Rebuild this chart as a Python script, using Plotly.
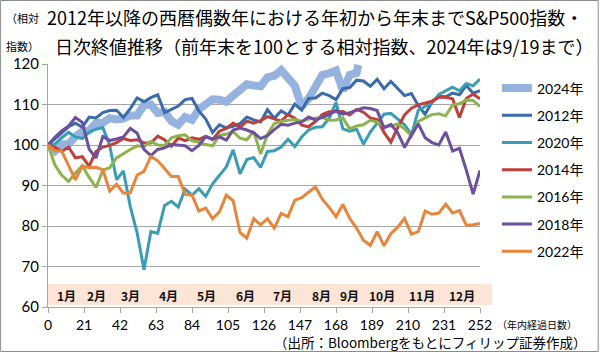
import plotly.graph_objects as go

# ---------------- data ----------------
days = list(range(0, 253, 4))
days_2024 = list(range(0, 181, 4)) + [181]

y2024 = [100, 98.5, 100.2, 100.2, 102.1, 103.3, 103.6, 105.4, 105.5, 106.6,
         106.3, 106.5, 107.3, 107.3, 109.9, 110.0, 107.9, 108.2, 105.9, 105.0,
         106.9, 106.2, 108.8, 110.0, 111.3, 111.2, 110.7, 112.2, 113.7, 115.0,
         114.7, 114.5, 116.7, 117.1, 118.5, 116.5, 114.6, 109.5, 111.5, 114.4,
         117.3, 117.7, 118.4, 113.4, 117.3, 117.8, 119.8]
y2012 = [100, 101.6, 103.0, 104.5, 105.4, 104.4, 106.9, 106.7, 108.0, 108.5,
         108.6, 106.8, 109.0, 111.6, 110.7, 111.7, 112.4, 108.0, 108.9, 109.6,
         111.2, 111.5, 108.4, 106.4, 103.1, 105.0, 104.2, 104.6, 105.3, 106.9,
         106.2, 105.7, 108.7, 106.6, 108.4, 107.4, 110.1, 108.6, 111.5, 111.6,
         112.8, 112.2, 111.2, 113.9, 114.2, 116.0, 115.8, 114.5, 116.2, 113.9,
         115.7, 114.0, 112.2, 112.7, 109.7, 107.6, 110.6, 112.0, 111.9, 112.8,
         112.4, 114.7, 112.8, 113.4]
y2020 = [100, 100.2, 101.8, 103.1, 102.0, 101.6, 103.2, 103.9, 104.3, 99.9,
         91.4, 93.6, 84.8, 78.3, 69.2, 78.6, 78.2, 85.1, 86.1, 84.7,
         89.1, 87.6, 89.2, 87.3, 90.4, 92.6, 94.6, 98.8, 92.9, 96.4,
         96.9, 94.5, 98.4, 98.6, 99.5, 101.4, 99.6, 102.0, 103.7, 104.4,
         104.5, 106.6, 110.5, 104.0, 103.4, 103.9, 100.2, 103.2, 105.5, 107.6,
         107.8, 106.3, 105.0, 102.5, 108.6, 109.5, 110.4, 112.5, 113.3, 114.3,
         113.4, 115.2, 114.6, 116.3]
y2014 = [100, 99.4, 98.4, 99.5, 96.8, 97.1, 94.8, 98.4, 99.5, 99.9,
         100.6, 101.6, 101.1, 101.3, 100.5, 100.5, 102.2, 101.3, 99.7, 101.7,
         101.1, 101.8, 101.4, 102.1, 101.3, 103.4, 104.1, 105.4, 104.4, 105.9,
         105.4, 106.0, 107.0, 106.4, 105.9, 107.5, 106.6, 104.9, 104.5, 105.8,
         107.5, 108.2, 108.3, 108.3, 107.4, 108.8, 108.1, 106.7, 106.3, 103.1,
         100.7, 104.3, 107.4, 109.1, 109.9, 110.3, 110.8, 111.8, 111.8, 111.4,
         106.8, 111.5, 112.6, 111.4]
y2016 = [100, 95.1, 92.5, 91.0, 93.1, 94.9, 92.0, 89.5, 93.8, 94.4,
         96.8, 97.9, 98.9, 99.8, 99.6, 100.9, 100.0, 99.9, 101.8, 102.3,
         102.5, 101.0, 100.7, 100.1, 99.8, 102.3, 102.7, 103.3, 101.7, 101.3,
         103.4, 97.8, 102.6, 105.3, 105.8, 106.1, 106.3, 105.9, 106.4, 106.6,
         106.8, 106.1, 106.2, 106.7, 104.0, 104.7, 105.0, 106.1, 105.7, 104.6,
         104.7, 105.2, 104.0, 102.2, 105.8, 106.7, 107.5, 107.7, 107.2, 109.9,
         110.2, 111.1, 111.0, 109.5]
y2018 = [100, 101.9, 103.5, 104.7, 106.8, 105.6, 99.0, 96.8, 102.1, 101.1,
         101.5, 102.0, 104.1, 102.9, 98.9, 97.4, 98.9, 99.3, 100.1, 99.9,
         99.8, 98.6, 99.9, 102.1, 101.5, 102.0, 101.2, 103.7, 104.2, 103.7,
         103.0, 101.6, 102.3, 103.8, 105.1, 104.9, 105.4, 105.7, 106.9, 106.2,
         106.9, 107.5, 108.5, 107.6, 108.0, 108.6, 109.2, 109.0, 108.5, 104.2,
         105.1, 103.0, 99.4, 102.5, 105.2, 101.8, 100.6, 100.0, 103.2, 98.5,
         99.2, 93.8, 87.9, 93.7]
y2022 = [100, 98.6, 98.5, 95.1, 91.4, 94.8, 94.4, 94.5, 93.9, 88.6,
         90.3, 88.1, 88.2, 92.6, 93.5, 97.2, 96.1, 94.2, 92.2, 92.2,
         87.8, 87.6, 83.7, 84.4, 81.8, 83.5, 87.6, 86.3, 78.4, 77.0,
         81.8, 80.3, 81.8, 79.5, 83.1, 82.3, 86.4, 87.0, 88.3, 89.7,
         86.6, 84.6, 82.3, 85.3, 81.9, 79.5, 76.5, 75.2, 78.6, 75.1,
         78.1, 79.7, 81.9, 78.0, 78.6, 83.7, 82.9, 83.2, 85.4, 83.2,
         83.8, 80.2, 80.3, 80.6]

series_names = ["2024年", "2012年", "2020年", "2014年", "2016年", "2018年", "2022年"]
series_x = [days_2024, days, days, days, days, days, days]
series_y = [y2024, y2012, y2020, y2014, y2016, y2018, y2022]
series_colors = ["#95B3DE", "#3A6BAD", "#3A9DB6", "#BD403B", "#8FB34C", "#6C4F9E", "#E8853A"]
series_widths = [8, 3, 3, 3, 3, 3, 3]

x_ticks = list(range(0, 253, 21))
y_ticks = list(range(60, 121, 10))
month_labels = ["1月", "2月", "3月", "4月", "5月", "6月", "7月", "8月", "9月", "10月", "11月", "12月"]
month_pos = [11, 28, 48.3, 70.5, 92.6, 115.3, 136.8, 159.5, 175.8, 195, 218.3, 241.5]

# ---------------- figure ----------------
W, H = 600, 352
ML, MR, MT, MB = 48, 119, 64, 45
PW, PH = W - ML - MR, H - MT - MB

def px_x(p):
    return (p - ML) / PW

def px_y(p):
    return (H - MB - p) / PH

JP = "Noto Sans CJK JP"
NUM = "Lato, Noto Sans CJK JP"

fig = go.Figure()
for i, (n, xs, ys, c, w) in enumerate(zip(series_names, series_x, series_y, series_colors, series_widths)):
    fig.add_trace(go.Scatter(x=xs, y=ys, mode="lines", name=n,
                             line=dict(color=c, width=w),
                             legendgroup=n, legendrank=i + 1))

for lab, p in zip(month_labels, month_pos):
    fig.add_annotation(x=p, y=62.9, xref="x", yref="y", text="<b>" + lab + "</b>",
                       showarrow=False, font=dict(family=JP, size=12, color="#111"))

shapes = [
    dict(type="rect", xref="paper", yref="paper", x0=0, x1=px_x(493),
         y0=px_y(305), y1=px_y(284), fillcolor="#FCE4D6", line=dict(width=0), layer="below"),
    dict(type="rect", xref="paper", yref="paper", x0=px_x(0.5), x1=px_x(599.5),
         y0=px_y(351.5), y1=px_y(0.5), line=dict(color="#8C8C8C", width=1), fillcolor="rgba(0,0,0,0)"),
]

ann = [
    dict(text="2012年以降の西暦偶数年における年初から年末までS&P500指数・", x=px_x(45), y=px_y(17)),
    dict(text="日次終値推移（前年末を100とする相対指数、2024年は9/19まで）", x=px_x(53), y=px_y(46)),
]
for a in ann:
    fig.add_annotation(text=a["text"], x=a["x"], y=a["y"], xref="paper", yref="paper",
                       xanchor="left", yanchor="middle", showarrow=False,
                       font=dict(family=JP, size=18, color="#000"))
for t, yy in [("（相対", 18), ("指数）", 46)]:
    fig.add_annotation(text=t, x=px_x(4), y=px_y(yy), xref="paper", yref="paper",
                       xanchor="left", yanchor="middle", showarrow=False,
                       font=dict(family=JP, size=11, color="#000"))
fig.add_annotation(text="（年内経過日数）", x=px_x(496), y=px_y(324), xref="paper", yref="paper",
                   xanchor="left", yanchor="middle", showarrow=False,
                   font=dict(family=JP, size=10, color="#000"))
fig.add_annotation(text="（出所：Bloombergをもとにフィリップ証券作成）", x=px_x(590), y=px_y(342),
                   xref="paper", yref="paper", xanchor="right", yanchor="middle", showarrow=False,
                   font=dict(family=JP, size=13.5, color="#000"))

fig.update_layout(
    width=W, height=H,
    margin=dict(l=ML, r=MR, t=MT, b=MB),
    paper_bgcolor="white", plot_bgcolor="white",
    shapes=shapes,
    showlegend=True,
    legend=dict(x=px_x(497), y=px_y(72.5), xanchor="left", yanchor="top",
                traceorder="grouped", tracegroupgap=6,
                font=dict(family=NUM, size=14, color="#000"),
                bgcolor="rgba(0,0,0,0)", itemwidth=30),
    xaxis=dict(range=[0, 252], tickvals=x_ticks, showgrid=False, zeroline=False,
               showline=True, linecolor="#A6A6A6", linewidth=1,
               ticks="outside", ticklen=5, tickcolor="#A6A6A6",
               tickfont=dict(family=NUM, size=14, color="#000")),
    yaxis=dict(range=[60, 120], tickvals=y_ticks, showgrid=True, gridcolor="#A6A6A6",
               gridwidth=1.2, zeroline=False, showline=True, linecolor="#A6A6A6",
               linewidth=1, ticks="outside", ticklen=5, tickcolor="#A6A6A6",
               tickfont=dict(family=NUM, size=15, color="#000")),
)

fig.write_html("out.html")
